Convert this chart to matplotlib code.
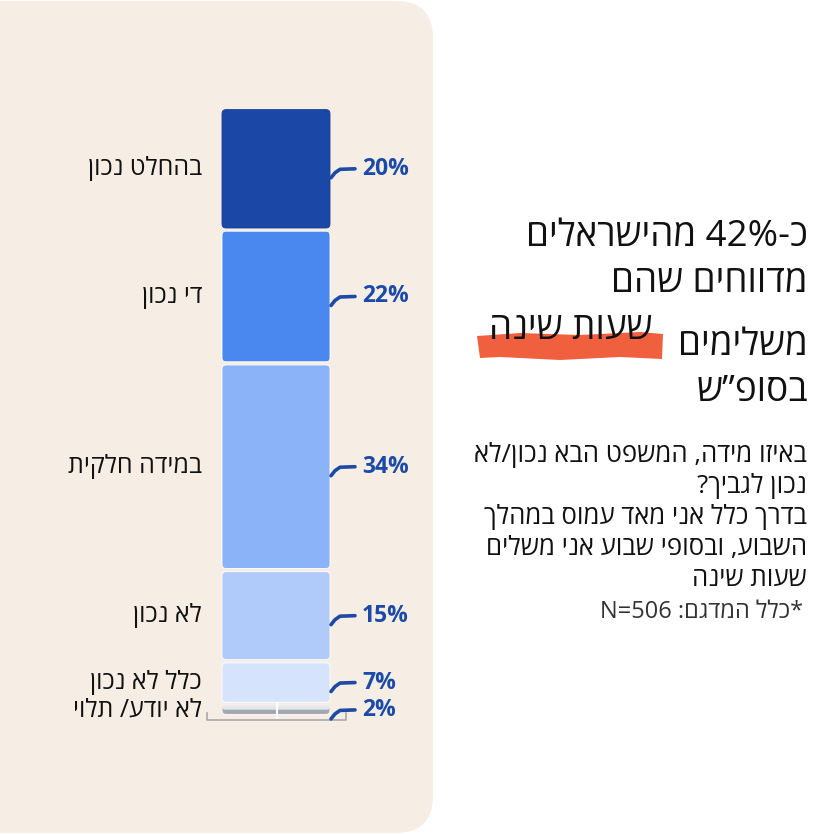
import re
import matplotlib
matplotlib.use("Agg")
import matplotlib.pyplot as plt
from matplotlib.patches import FancyBboxPatch, Polygon

plt.rcParams['font.family'] = ['Open Sans', 'DejaVu Sans']

# data (top to bottom of the stacked bar)
categories = ['בהחלט נכון', 'די נכון', 'במידה חלקית', 'לא נכון', 'כלל לא נכון', 'לא יודע/ תלוי']
values = [20, 22, 34, 15, 7, 2]
colors = ['#1b48a6', '#4a87ee', '#8ab4f7', '#b0cbf9', '#d5e3fc', '#a4a9b0']

title_lines = ['כ-42% מהישראלים', 'מדווחים שהם', 'משלימים', 'בסופ”ש']
highlight = 'שעות שינה'
subtitle_lines = ['באיזו מידה, המשפט הבא נכון/לא', 'נכון לגביך?',
                  'בדרך כלל אני מאד עמוס במהלך', 'השבוע, ובסופי שבוע אני משלים',
                  'שעות שינה']
note = '*כלל המדגם: N=506'


def rtl(s):
    # matplotlib has no bidi: reverse hebrew, keep latin/digit runs in order
    parts = re.findall(r'[A-Za-z0-9%=.]+|[^A-Za-z0-9%=.]', s)
    return ''.join(reversed(parts))


def main():
    fig = plt.figure(figsize=(8.34, 8.34), dpi=100)
    fig.patch.set_facecolor('white')

    # background layer in pixel coords
    bg = fig.add_axes([0, 0, 1, 1])
    bg.set_xlim(0, 834)
    bg.set_ylim(834, 0)
    bg.axis('off')
    panel = FancyBboxPatch((-80, 1), 80 + 433, 832, boxstyle='round,pad=0,rounding_size=37',
                           facecolor='#f6eee5', edgecolor='none')
    bg.add_patch(panel)

    # bar axes: x in pixels, y in percent (0 at top)
    top_px, bot_px = 108, 716
    ax = fig.add_axes([0, (834 - bot_px) / 834, 1, (bot_px - top_px) / 834])
    ax.set_xlim(0, 834)
    ax.set_ylim(100, 0)
    ax.axis('off')
    ppx = 100 / (bot_px - top_px)  # percent per pixel

    x0, w = 222, 108
    bottoms = [sum(values[:i]) for i in range(len(values))]
    bars = ax.bar(x0 + w / 2, values, bottom=bottoms, width=w, color=colors)
    gap = 1.6 * ppx
    for i, p in enumerate(bars.patches):
        bb = p.get_bbox()
        ylo, yhi = min(bb.y0, bb.y1), max(bb.y0, bb.y1)
        p.set_visible(False)
        edge = '#16409a' if i == 0 else 'white'
        box = FancyBboxPatch((bb.x0, ylo + gap), bb.x1 - bb.x0, yhi - ylo - 2 * gap,
                             boxstyle='round,pad=0,rounding_size=4', mutation_aspect=ppx,
                             facecolor=colors[i], edgecolor=edge, linewidth=0.6,
                             zorder=2, clip_on=False)
        ax.add_patch(box)
        if i == len(values) - 1:
            # light top of the grey segment and the white divider
            hi = FancyBboxPatch((bb.x0, ylo + gap), bb.x1 - bb.x0, (yhi - ylo) * 0.35,
                                boxstyle='round,pad=0,rounding_size=3', mutation_aspect=ppx,
                                facecolor='#e4e7eb', edgecolor='none', zorder=3, clip_on=False)
            ax.add_patch(hi)
            ax.plot([x0 + w / 2 + 1] * 2, [ylo, yhi + 2 * ppx], color='white', lw=1.5,
                    zorder=4, clip_on=False)

        yc = bottoms[i] + values[i] / 2
        # hook connector + value label
        ax.plot([x0 + w + 1, x0 + w + 5, x0 + w + 10, x0 + w + 25],
                [yc + 9 * ppx, yc + 4 * ppx, yc + 0.5 * ppx, yc],
                color='#1d4aa6', lw=2.6, solid_capstyle='round', zorder=3, clip_on=False)
        ax.text(362, yc, f'{values[i]}%', color='#1b4aa8', fontsize=16.5,
                fontweight='bold', ha='left', va='center')
        ax.text(202, yc, rtl(categories[i]), color='#111111', fontsize=18,
                ha='right', va='center')

    # baseline bracket
    yb = 100 + 4 * ppx
    ax.plot([207, 207, 346, 346], [yb - 7 * ppx, yb, yb, yb - 7 * ppx],
            color='#a9a9a9', lw=1.2, zorder=1, clip_on=False)

    # title
    tx = 808
    fs = 26.5
    bg.text(tx, 246, rtl(title_lines[0]), fontsize=fs, ha='right', va='baseline', color='#111111')
    bg.text(tx, 292, rtl(title_lines[1]), fontsize=fs, ha='right', va='baseline', color='#111111')
    bg.text(tx, 355, rtl(title_lines[2]), fontsize=fs, ha='right', va='baseline', color='#111111')
    bg.text(tx, 401, rtl(title_lines[3]), fontsize=fs, ha='right', va='baseline', color='#111111')
    stroke = Polygon([(477, 336), (520, 333), (580, 335), (640, 332), (663, 334),
                      (662, 359), (620, 357), (560, 360), (500, 357), (480, 358)],
                     closed=True, facecolor='#f0603e', edgecolor='none', zorder=1)
    bg.add_patch(stroke)
    bg.text(653, 339, rtl(highlight), fontsize=fs, ha='right', va='baseline',
            color='#111111', zorder=2)

    # subtitle
    for k, line in enumerate(subtitle_lines):
        bg.text(807, 462 + k * 31, rtl(line), fontsize=18.5, ha='right', va='baseline',
                color='#111111')
    bg.text(803, 618, rtl(note), fontsize=17, ha='right', va='baseline', color='#333333')

    fig.savefig('out.png', dpi=100, facecolor='white')


if __name__ == "__main__":
    main()
